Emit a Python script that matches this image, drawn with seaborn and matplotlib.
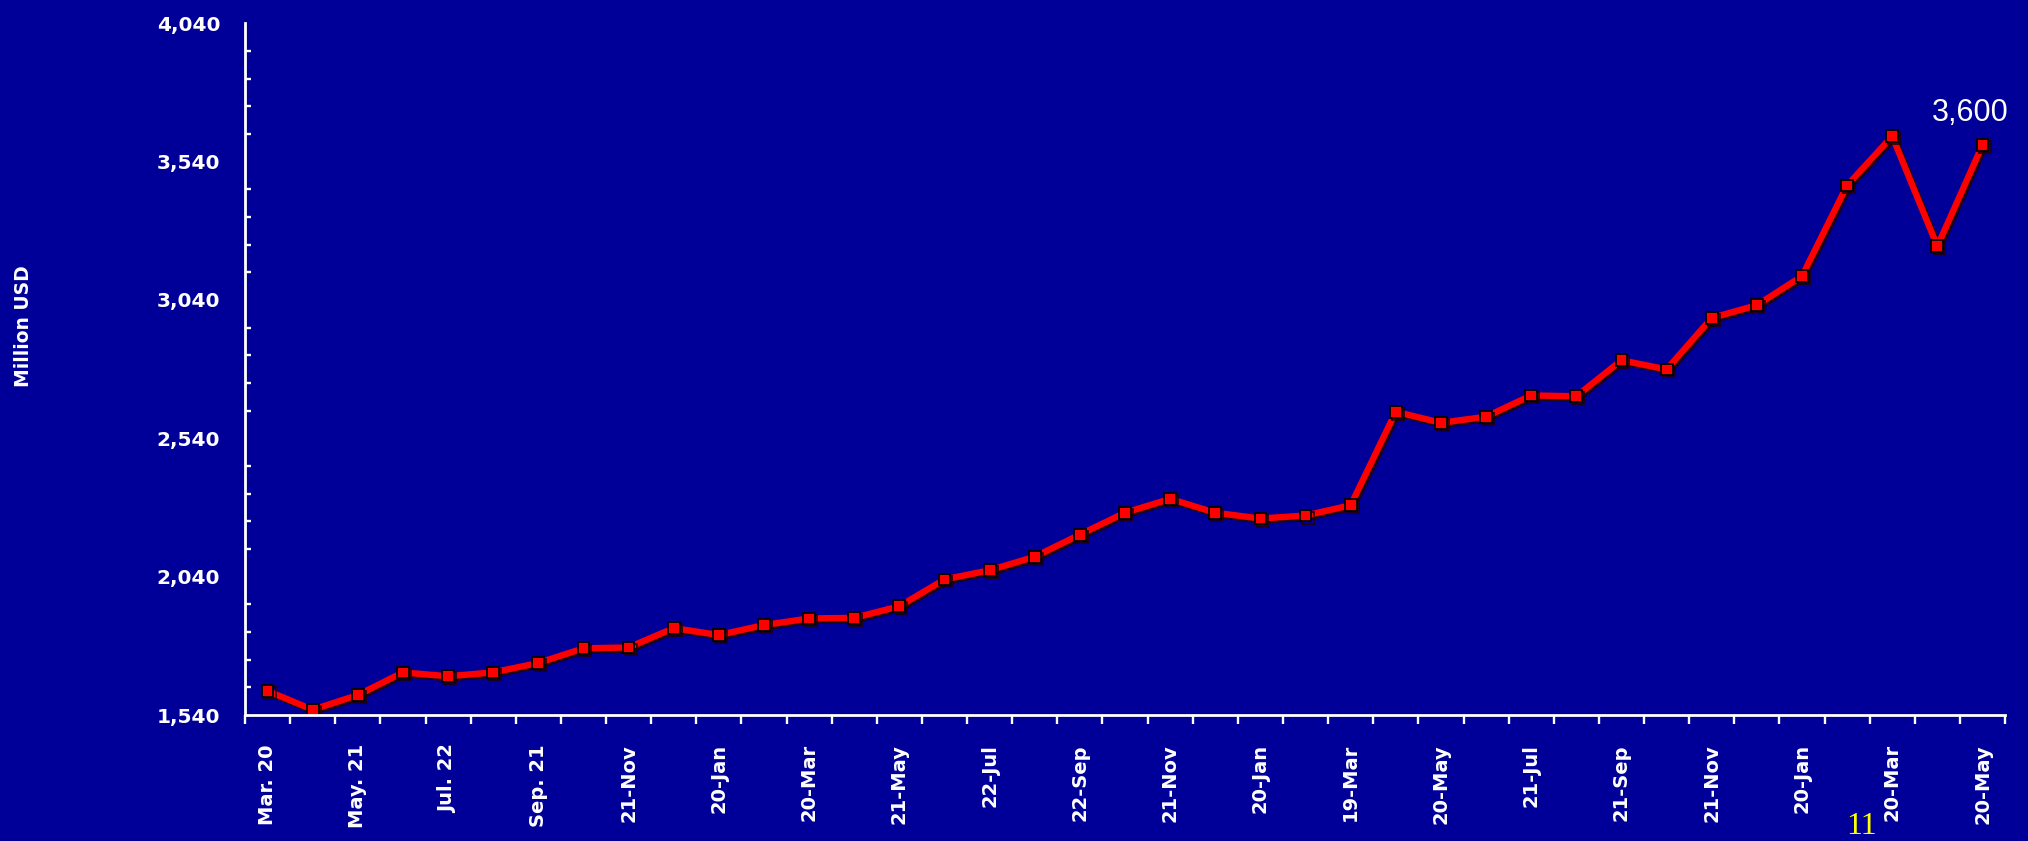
import matplotlib
matplotlib.use("Agg")
import matplotlib.pyplot as plt
import matplotlib.patheffects as pe
from matplotlib.ticker import MultipleLocator, FixedLocator, NullFormatter, FuncFormatter
import numpy as np
import pandas as pd
import seaborn as sns

# Monthly series, million USD
values = [1627, 1559, 1612, 1694, 1680, 1694, 1728, 1781, 1784, 1854,
          1829, 1865, 1889, 1891, 1933, 2030, 2063, 2112, 2192, 2271,
          2321, 2271, 2250, 2261, 2298, 2636, 2596, 2618, 2695, 2692,
          2822, 2789, 2975, 3021, 3126, 3454, 3632, 3234, 3600]

# Labels shown on every second period
tick_labels = ["Mar. 20", "May. 21", "Jul. 22", "Sep. 21", "21-Nov", "20-Jan",
               "20-Mar", "21-May", "22-Jul", "22-Sep", "21-Nov", "20-Jan",
               "19-Mar", "20-May", "21-Jul", "21-Sep", "21-Nov", "20-Jan",
               "20-Mar", "20-May"]

y_ticks = [1540, 2040, 2540, 3040, 3540, 4040]

y_title = "Million USD"
last_label = "3,600"
page_number = "11"

BG = "#000099"
FG = "white"

sns.set_theme(style="white")
plt.rcParams["font.family"] = ["DejaVu Sans"]

df = pd.DataFrame({"period": np.arange(len(values)), "value": values})

fig = plt.figure(figsize=(20.28, 8.41), dpi=100, facecolor=BG)
ax = fig.add_axes([0.1208, 0.1498, 0.8679, 0.8225])
ax.set_facecolor(BG)

sns.lineplot(
    data=df, x="period", y="value", ax=ax,
    color="#ff0000", linewidth=4.6,
    marker="s", markersize=8.5, markerfacecolor="#ff0000",
    markeredgecolor="black", markeredgewidth=1.3,
    path_effects=[pe.SimpleLineShadow(offset=(1.5, -1.5), shadow_color="#200000", alpha=0.9),
                  pe.Normal()],
)

ax.set_xlim(-0.5, len(values) - 0.5)
ax.set_ylim(y_ticks[0], y_ticks[-1])

# y axis: labelled ticks every 500, minor every 100
ax.yaxis.set_major_locator(FixedLocator(y_ticks))
ax.yaxis.set_minor_locator(MultipleLocator(100, offset=40))
ax.yaxis.set_major_formatter(FuncFormatter(lambda v, p: f"{int(round(v)):,}"))
ax.tick_params(axis="y", which="major", direction="inout", length=9.5, width=1.7,
               color=FG, labelcolor=FG, labelsize=14.5, pad=13)
ax.tick_params(axis="y", which="minor", direction="in", length=4.5, width=1.7,
               color=FG, left=True)

# x axis: tick marks on period boundaries, labels on every second period
label_pos = list(range(0, len(values), 2))
ax.xaxis.set_major_locator(FixedLocator(label_pos))
ax.set_xticklabels(tick_labels)
ax.xaxis.set_minor_locator(FixedLocator(np.arange(-0.5, len(values), 1.0)))
ax.xaxis.set_minor_formatter(NullFormatter())
ax.tick_params(axis="x", which="major", length=0, labelcolor=FG, labelsize=14,
               pad=21, labelrotation=90)
ax.tick_params(axis="x", which="minor", direction="out", length=6.5, width=1.7,
               color=FG, bottom=True)
for lab in ax.get_xticklabels() + ax.get_yticklabels():
    lab.set_fontweight("bold")

for side in ("top", "right"):
    ax.spines[side].set_visible(False)
for side in ("left", "bottom"):
    ax.spines[side].set_color(FG)
    ax.spines[side].set_linewidth(2.0)

ax.set_xlabel("")
ax.set_ylabel("")
ax.grid(False)

fig.text(24 / 2028, 1 - 326 / 841, y_title, rotation=90, color=FG,
         fontsize=13.5, fontweight="bold", ha="center", va="center")

ax.annotate(last_label, xy=(len(values) - 1, values[-1]), xytext=(-12, 32),
            textcoords="offset pixels", ha="center", va="center",
            color=FG, fontsize=22, family="Liberation Sans")

fig.text(1862 / 2028, 0.0, page_number, color="#ffff00", fontsize=23,
         family="Liberation Serif", ha="center", va="bottom")

fig.savefig("out.png", dpi=100, facecolor=BG)
